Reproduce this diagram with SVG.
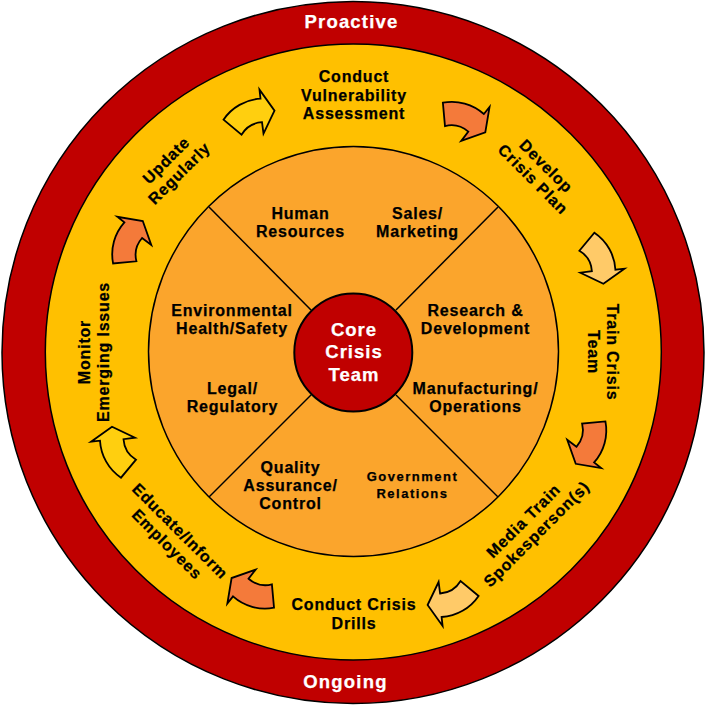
<svg xmlns="http://www.w3.org/2000/svg" xmlns:xlink="http://www.w3.org/1999/xlink" width="707" height="705" viewBox="0 0 707 705">
<style>
text{font-family:"Liberation Sans",Arial,sans-serif;font-weight:bold;text-anchor:middle;fill:#000;stroke:#000;stroke-width:0.25px}
.w{fill:#fff;stroke:#fff;font-size:18.5px;letter-spacing:1.2px}
.o{font-size:16px;letter-spacing:0.8px}
.i{font-size:16px;letter-spacing:0.8px}
.s{font-size:13px;letter-spacing:1.5px}
.c{font-size:18.5px;letter-spacing:1px;fill:#fff;stroke:#fff}
.ar{stroke:#000;stroke-width:1.8;stroke-linejoin:miter}
.y{fill:#FFCF0F}
.r{fill:#F47A3A}
.l{fill:#FFCA68}
.div{stroke:#000;stroke-width:1.5;fill:none}
</style>
<defs>
<path id="arrow" d="M-25,7 A48,48 0 0 1 12,-14 L11,-23 L26,-2 L15,21 L13.5,9.5 A26,26 0 0 0 -7,22 Z"/>
</defs>
<g id="ring-outer">
<circle cx="353" cy="352.5" r="351" fill="#C00000" stroke="#000" stroke-width="1.5"/>
<text class="w" x="351.5" y="28">Proactive</text>
<text class="w" x="345.5" y="688">Ongoing</text>
</g>
<g id="ring-cycle">
<circle cx="353.3" cy="352" r="308" fill="#FFC000" stroke="#000" stroke-width="1.5"/>
</g>
<g id="ring-functions">
<circle cx="353.5" cy="351.5" r="205" fill="#FBA52C" stroke="#000" stroke-width="1.5"/>
</g>
<g id="dividers">
<line class="div" x1="209" y1="207" x2="311" y2="310"/>
<line class="div" x1="498" y1="207" x2="396" y2="310"/>
<line class="div" x1="209" y1="497" x2="311" y2="395"/>
<line class="div" x1="498" y1="497" x2="396" y2="395"/>
</g>
<g id="core">
<circle cx="353.3" cy="352.5" r="59" fill="#C00000" stroke="#000" stroke-width="2"/>
<text class="c"><tspan x="354" y="335.5">Core</tspan><tspan x="354" y="358">Crisis</tspan><tspan x="354" y="381">Team</tspan></text>
</g>
<g id="hr"><text class="i"><tspan x="300.5" y="219">Human</tspan><tspan x="300.5" y="237">Resources</tspan></text></g>
<g id="sales"><text class="i"><tspan x="417.5" y="219">Sales/</tspan><tspan x="417.5" y="237">Marketing</tspan></text></g>
<g id="ehs"><text class="i"><tspan x="232" y="316">Environmental</tspan><tspan x="232" y="334">Health/Safety</tspan></text></g>
<g id="rd"><text class="i"><tspan x="475.5" y="316">Research &amp;</tspan><tspan x="475.5" y="334">Development</tspan></text></g>
<g id="legal"><text class="i"><tspan x="232.5" y="394">Legal/</tspan><tspan x="232.5" y="412">Regulatory</tspan></text></g>
<g id="mfg"><text class="i"><tspan x="475.5" y="394">Manufacturing/</tspan><tspan x="475.5" y="412">Operations</tspan></text></g>
<g id="qa"><text class="i"><tspan x="290.5" y="473">Quality</tspan><tspan x="290.5" y="491">Assurance/</tspan><tspan x="290.5" y="509">Control</tspan></text></g>
<g id="gov"><text class="s"><tspan x="412.5" y="481">Government</tspan><tspan x="412.5" y="498">Relations</tspan></text></g>
<g id="step-assess"><text class="o"><tspan x="354" y="82">Conduct</tspan><tspan x="354" y="100.5">Vulnerability</tspan><tspan x="354" y="119">Assessment</tspan></text></g>
<g id="step-plan"><text class="o" transform="translate(539.5,172.7) rotate(45)"><tspan x="0" y="-3.75">Develop</tspan><tspan x="0" y="14.75">Crisis Plan</tspan></text></g>
<g id="step-train"><text class="o" transform="translate(603,352) rotate(90)"><tspan x="0" y="-3.75">Train Crisis</tspan><tspan x="0" y="14.75">Team</tspan></text></g>
<g id="step-media"><text class="o" transform="translate(530,527.5) rotate(-45)"><tspan x="0" y="-3.75">Media Train</tspan><tspan x="0" y="14.75">Spokesperson(s)</tspan></text></g>
<g id="step-drills"><text class="o"><tspan x="354" y="610">Conduct Crisis</tspan><tspan x="354" y="628.5">Drills</tspan></text></g>
<g id="step-educate"><text class="o" transform="translate(173.5,537.7) rotate(45)"><tspan x="0" y="-3.75">Educate/Inform</tspan><tspan x="0" y="14.75">Employees</tspan></text></g>
<g id="step-monitor"><text class="o" transform="translate(93.8,352) rotate(-90)"><tspan x="0" y="-3.75">Monitor</tspan><tspan x="0" y="14.75">Emerging Issues</tspan></text></g>
<g id="step-update"><text class="o" transform="translate(172.7,166.8) rotate(-45)"><tspan x="0" y="-3.75">Update</tspan><tspan x="0" y="14.75">Regularly</tspan></text></g>
<g id="connectors">
<use xlink:href="#arrow" class="ar y" transform="translate(248.5,112.7) rotate(0)"/>
<use xlink:href="#arrow" class="ar r" transform="translate(465.5,115.4) rotate(45)"/>
<use xlink:href="#arrow" class="ar l" transform="translate(601.4,257.7) rotate(90)"/>
<use xlink:href="#arrow" class="ar r" transform="translate(592.7,444) rotate(135)"/>
<use xlink:href="#arrow" class="ar l" transform="translate(453.6,603) rotate(180)"/>
<use xlink:href="#arrow" class="ar r" transform="translate(251.4,595) rotate(225)"/>
<use xlink:href="#arrow" class="ar y" transform="translate(114,452.7) rotate(270)"/>
<use xlink:href="#arrow" class="ar r" transform="translate(125.8,240.8) rotate(315)"/>
</g>
</svg>
